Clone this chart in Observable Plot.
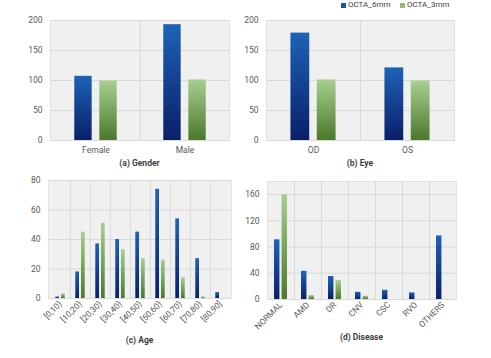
<!DOCTYPE html>
<html><head><meta charset="utf-8">
<script src="https://cdn.jsdelivr.net/npm/d3@7"></script>
<script src="https://cdn.jsdelivr.net/npm/@observablehq/plot@0.6"></script>
<style>
body{margin:0;background:#fff;font-family:Roboto,sans-serif}
#root{position:relative;width:491px;height:358px;overflow:hidden;background:#fff}
.panel{position:absolute}
.title{position:absolute;font-size:8.5px;font-weight:700;color:#3f3f3f;transform:translateX(-50%);white-space:nowrap;line-height:11px}
.leg{position:absolute;font-size:8px;color:#404040;line-height:10px;white-space:nowrap}
.sw{position:absolute;width:5px;height:5px}
</style></head><body>
<svg width="0" height="0" style="position:absolute"><defs>
<linearGradient id="gBlue" x1="0" y1="0" x2="0" y2="1"><stop offset="0" stop-color="#1d62b6"/><stop offset="1" stop-color="#0a1f6a"/></linearGradient>
<linearGradient id="gGreen" x1="0" y1="0" x2="0" y2="1"><stop offset="0" stop-color="#a9cf8f"/><stop offset="1" stop-color="#4a792c"/></linearGradient>
</defs></svg>
<div id="root"></div>
<script>
const series = ["OCTA_6mm", "OCTA_3mm"];
const genderCats = ["Female", "Male"];
const gender6 = [107, 193];
const gender3 = [99, 101];
const eyeCats = ["OD", "OS"];
const eye6 = [179, 121];
const eye3 = [101, 99];
const ageCats = ["[0,10)", "[10,20)", "[20,30)", "[30,40)", "[40,50)", "[50,60)", "[60,70)", "[70,80)", "[80,90]"];
const age6 = [1, 18, 37, 40, 45, 74, 54, 27, 4];
const age3 = [3, 45, 51, 33, 27, 26, 14, 1, 0];
const diseaseCats = ["NORMAL", "AMD", "DR", "CNV", "CSC", "RVO", "OTHERS"];
const disease6 = [91, 43, 35, 11, 14, 10, 97];
const disease3 = [160, 6, 29, 5, 0, 0, 0];
const ticksAB = [0, 50, 100, 150, 200];
const ticksC = [0, 20, 40, 60, 80];
const ticksD = [0, 40, 80, 120, 160];

const root = document.getElementById("root");

function panel(o) {
  const n = o.cats.length;
  const bw = (o.width - o.ml - o.mr) / n;
  const rows = o.cats.map((c, i) => ({c, v6: o.s6[i], v3: o.s3[i]}));
  const chart = Plot.plot({
    width: o.width, height: o.height,
    marginLeft: o.ml, marginRight: o.mr, marginTop: o.mt, marginBottom: o.mb,
    style: {fontFamily: "Roboto, sans-serif", fontSize: "8.5px", color: "#595959", background: "transparent", overflow: "visible"},
    x: {domain: o.cats, padding: 0},
    y: {domain: [0, o.yMax]},
    marks: [
      Plot.frame({fill: "#f0f0f0", stroke: "#e2e2e2"}),
      Plot.gridY(o.ticks, {stroke: "#d9d9d9", strokeOpacity: 1}),
      Plot.ruleX(o.cats.slice(1), {dx: -bw / 2, stroke: "#d9d9d9"}),
      Plot.barY(rows, {x: "c", y: "v6", fill: "url(#gBlue)", insetLeft: bw * 0.26, insetRight: bw * 0.54}),
      Plot.barY(rows, {x: "c", y: "v3", fill: "url(#gGreen)", insetLeft: bw * 0.54, insetRight: bw * 0.26}),
      Plot.axisY(o.ticks, {tickSize: 0, tickPadding: 8, label: null}),
      Plot.axisX({tickSize: 0, tickPadding: o.rotate ? 4 : 6, tickRotate: o.rotate ? -45 : 0, label: null})
    ]
  });
  chart.classList.add("panel");
  chart.style.left = o.left + "px";
  chart.style.top = o.top + "px";
  root.appendChild(chart);
  const t = document.createElement("div");
  t.className = "title";
  t.textContent = o.title;
  t.style.left = (o.left + o.ml + (o.width - o.ml - o.mr) / 2) + "px";
  t.style.top = o.titleY + "px";
  root.appendChild(t);
}

panel({cats: genderCats, s6: gender6, s3: gender3, left: 0, top: 0, width: 245, height: 175, ml: 50, mr: 16, mt: 20, mb: 35, yMax: 200, ticks: ticksAB, rotate: false, title: "(a) Gender", titleY: 158});
panel({cats: eyeCats, s6: eye6, s3: eye3, left: 245, top: 0, width: 246, height: 175, ml: 21, mr: 37, mt: 20, mb: 35, yMax: 200, ticks: ticksAB, rotate: false, title: "(b) Eye", titleY: 158});
panel({cats: ageCats, s6: age6, s3: age3, left: 0, top: 170, width: 245, height: 188, ml: 48, mr: 14, mt: 10, mb: 60, yMax: 80, ticks: ticksC, rotate: true, title: "(c) Age", titleY: 335});
panel({cats: diseaseCats, s6: disease6, s3: disease3, left: 245, top: 170, width: 246, height: 188, ml: 22, mr: 35, mt: 11, mb: 59, yMax: 180, ticks: ticksD, rotate: true, title: "(d) Disease", titleY: 332});

// legend
const legItems = [{x: 341, color: "#1a55a8"}, {x: 400, color: "#8fbf72"}];
legItems.forEach((d, i) => {
  const s = document.createElement("div");
  s.className = "sw";
  s.style.left = d.x + "px"; s.style.top = "3px"; s.style.background = d.color;
  root.appendChild(s);
  const l = document.createElement("div");
  l.className = "leg";
  l.textContent = series[i];
  l.style.left = (d.x + 7) + "px"; l.style.top = "0px";
  root.appendChild(l);
});
</script>
</body></html>
